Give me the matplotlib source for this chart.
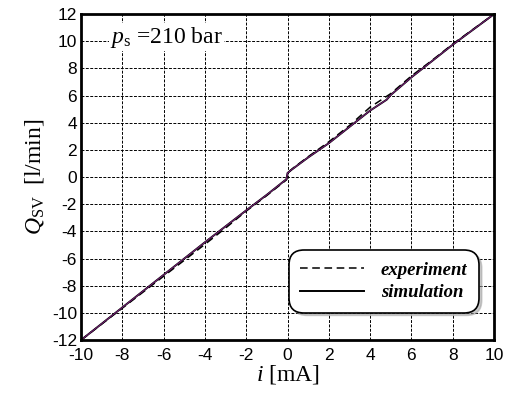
import matplotlib.pyplot as plt

# values
i_exp = [-10, -8, -6, -4, -3, -2, -1, -0.05, 0.0, 0.3, 1, 2, 3, 4, 4.6, 5, 6, 7, 8, 9, 10]
q_exp = [-12, -9.65, -7.3, -4.95, -3.75, -2.5, -1.35, -0.2, 0.3, 0.7, 1.5, 2.6, 3.8, 5.15, 5.75, 6.15, 7.45, 8.6, 9.8, 10.9, 12]

i_sim = [-10, -8, -6, -4, -2, -1, -0.05, 0.0, 0.2, 1, 2, 3, 4, 4.8, 5, 6, 8, 10]
q_sim = [-12, -9.6, -7.2, -4.8, -2.45, -1.3, -0.15, 0.3, 0.55, 1.45, 2.5, 3.7, 4.9, 5.7, 6.05, 7.35, 9.75, 12]

xticks = list(range(-10, 11, 2))
yticks = list(range(-12, 13, 2))

plt.rcParams['font.family'] = ['Liberation Sans', 'DejaVu Sans']
plt.rcParams['axes.unicode_minus'] = False
plt.rcParams['mathtext.fontset'] = 'custom'
plt.rcParams['mathtext.rm'] = 'Liberation Serif'
plt.rcParams['mathtext.it'] = 'Liberation Serif:italic'

fig = plt.figure(figsize=(5.13, 3.94), dpi=100)
ax = fig.add_axes([0.158, 0.137, 0.805, 0.827])

ax.plot(i_exp, q_exp, color='black', lw=1.1, ls=(0, (5, 3)), label='experiment')
ax.plot(i_sim, q_sim, color='black', lw=1.4, label='simulation')
ax.plot(i_sim, q_sim, color='#7a1f7a', lw=0.7)

ax.set_xlim(-10, 10)
ax.set_ylim(-12, 12)
ax.set_xticks(xticks)
ax.set_yticks(yticks)
ax.tick_params(length=0, labelsize=12.5)
ax.tick_params(axis='x', pad=6)
ax.tick_params(axis='y', pad=3)
ax.grid(True, color='black', ls=(0, (3, 1.5)), lw=0.7)
for s in ax.spines.values():
    s.set_linewidth(2)

ax.set_xlabel(r'$i$ [mA]', family='Liberation Serif', fontsize=17, labelpad=0)
ax.set_ylabel(r'$Q_{\mathrm{SV}}$  [l/min]', family='Liberation Serif', fontsize=17, labelpad=4)

ax.text(-8.6, 10.3, r'$p_{\mathrm{s}}$ =210 bar', family='Liberation Serif', fontsize=17,
        va='center', ha='left', bbox=dict(facecolor='white', edgecolor='none', pad=1))

leg = ax.legend(loc='lower right', bbox_to_anchor=(0.977, 0.067), fancybox=True, shadow={'color': '0.6'},
                framealpha=1, edgecolor='black', handlelength=3.4, borderpad=0.4,
                prop={'family': 'Liberation Serif', 'style': 'italic', 'weight': 'bold', 'size': 13.5},
                labelspacing=0.3, handletextpad=0.9)
leg.get_frame().set_linewidth(1.2)
leg.get_frame().set_boxstyle('round', pad=0.2, rounding_size=0.8)

fig.savefig('out.png', dpi=100)
